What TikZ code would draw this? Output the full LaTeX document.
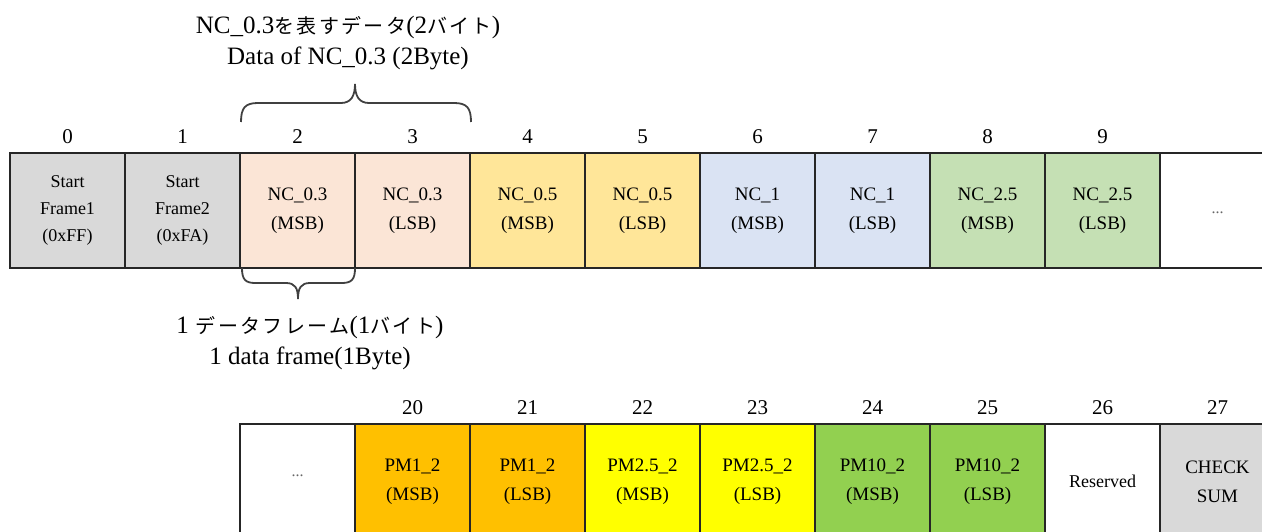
\documentclass[tikz,border=0pt]{standalone}
\usepackage{fontspec}
\setmainfont{Liberation Serif}
\newfontfamily\jpfont[LetterSpace=12]{Noto Sans CJK JP}
\definecolor{cgray}{HTML}{D9D9D9}
\definecolor{cpeach}{HTML}{FBE5D6}
\definecolor{cgold}{HTML}{FFE699}
\definecolor{cblue}{HTML}{DAE3F3}
\definecolor{cgreen}{HTML}{C5E0B4}
\definecolor{corange}{HTML}{FFC000}
\definecolor{cyellow}{HTML}{FFFF00}
\definecolor{clime}{HTML}{92D050}
\definecolor{cline}{HTML}{262626}
\definecolor{cbrace}{HTML}{404040}
\tikzset{
  cell/.style={draw=cline, line width=1.6pt, rectangle, minimum width=115pt, minimum height=115pt,
    inner sep=0pt, align=center, font=\fontsize{19}{29}\selectfont},
  idx/.style={font=\fontsize{21}{24}\selectfont, inner sep=0pt},
  lbl/.style={font=\fontsize{25}{31}\selectfont, inner sep=0pt, align=center},
  dots/.style={font=\fontsize{16}{18}\selectfont\color{black!60}},
  bracepath/.style={draw=cbrace, line width=1.8pt}
}
\newcommand{\jp}[1]{{\jpfont\fontsize{20}{30}\selectfont #1}}
\begin{document}
\begin{tikzpicture}[x=1pt,y=-1pt]
\useasboundingbox (0,0) rectangle (1262,532);
\begin{scope}
\clip (0,0) rectangle (1262,532);
% top row
\node[cell, fill=cgray, font=\fontsize{18}{27}\selectfont] (t0) at (67.5,210.5) {Start\\Frame1\\(0xFF)};
\node[cell, fill=cgray, font=\fontsize{18}{27}\selectfont] (t1) at (182.5,210.5) {Start\\Frame2\\(0xFA)};
\node[cell, fill=cpeach] (t2) at (297.5,210.5) {NC\_0.3\\(MSB)};
\node[cell, fill=cpeach] (t3) at (412.5,210.5) {NC\_0.3\\(LSB)};
\node[cell, fill=cgold] (t4) at (527.5,210.5) {NC\_0.5\\(MSB)};
\node[cell, fill=cgold] (t5) at (642.5,210.5) {NC\_0.5\\(LSB)};
\node[cell, fill=cblue] (t6) at (757.5,210.5) {NC\_1\\(MSB)};
\node[cell, fill=cblue] (t7) at (872.5,210.5) {NC\_1\\(LSB)};
\node[cell, fill=cgreen] (t8) at (987.5,210.5) {NC\_2.5\\(MSB)};
\node[cell, fill=cgreen] (t9) at (1102.5,210.5) {NC\_2.5\\(LSB)};
\node[cell, fill=white] (t10) at (1217.5,210.5) {};
\node[dots] (d1) at (1217.5,213) {...};
% top indices
\foreach \i in {0,...,9} {
  \node[idx] (n\i) at ({67.5+115*\i},137) {\i};
}
% bottom row
\node[cell, fill=white] (b0) at (297.5,481.5) {};
\node[dots] (d2) at (297.5,476) {...};
\node[cell, fill=corange] (b1) at (412.5,481.5) {PM1\_2\\(MSB)};
\node[cell, fill=corange] (b2) at (527.5,481.5) {PM1\_2\\(LSB)};
\node[cell, fill=cyellow] (b3) at (642.5,481.5) {PM2.5\_2\\(MSB)};
\node[cell, fill=cyellow] (b4) at (757.5,481.5) {PM2.5\_2\\(LSB)};
\node[cell, fill=clime] (b5) at (872.5,481.5) {PM10\_2\\(MSB)};
\node[cell, fill=clime] (b6) at (987.5,481.5) {PM10\_2\\(LSB)};
\node[cell, fill=white, font=\fontsize{18}{24}\selectfont] (b7) at (1102.5,481.5) {Reserved};
\node[cell, fill=cgray] (b8) at (1217.5,481.5) {CHECK\\SUM};
\end{scope}
% bottom indices
\foreach \i [count=\k from 1] in {20,...,27} {
  \node[idx] (m\i) at ({297.5+115*\k},408) {\i};
}
% top brace
\draw[bracepath] (241,122) .. controls (241,108) and (245,103) .. (258,103) -- (341,103)
  .. controls (351,103) and (355,96) .. (355,84)
  .. controls (355,96) and (359,103) .. (369,103) -- (454,103)
  .. controls (467,103) and (471,108) .. (471,122);
\node[lbl] (toplbl) at (348,43) {NC\_0.3\jp{を表すデータ}(2\jp{バイト})\\Data of NC\_0.3 (2Byte)};
% bottom brace
\draw[bracepath] (242,268) .. controls (242,279) and (245,283) .. (255,283) -- (286,283)
  .. controls (295,283) and (298,288) .. (298,299)
  .. controls (298,288) and (301,283) .. (310,283) -- (342,283)
  .. controls (352,283) and (355,279) .. (355,268);
\node[lbl] (botlbl) at (310,343) {1\jp{\ データフレーム}(1\jp{バイト})\\1 data frame(1Byte)};
\end{tikzpicture}
\end{document}
